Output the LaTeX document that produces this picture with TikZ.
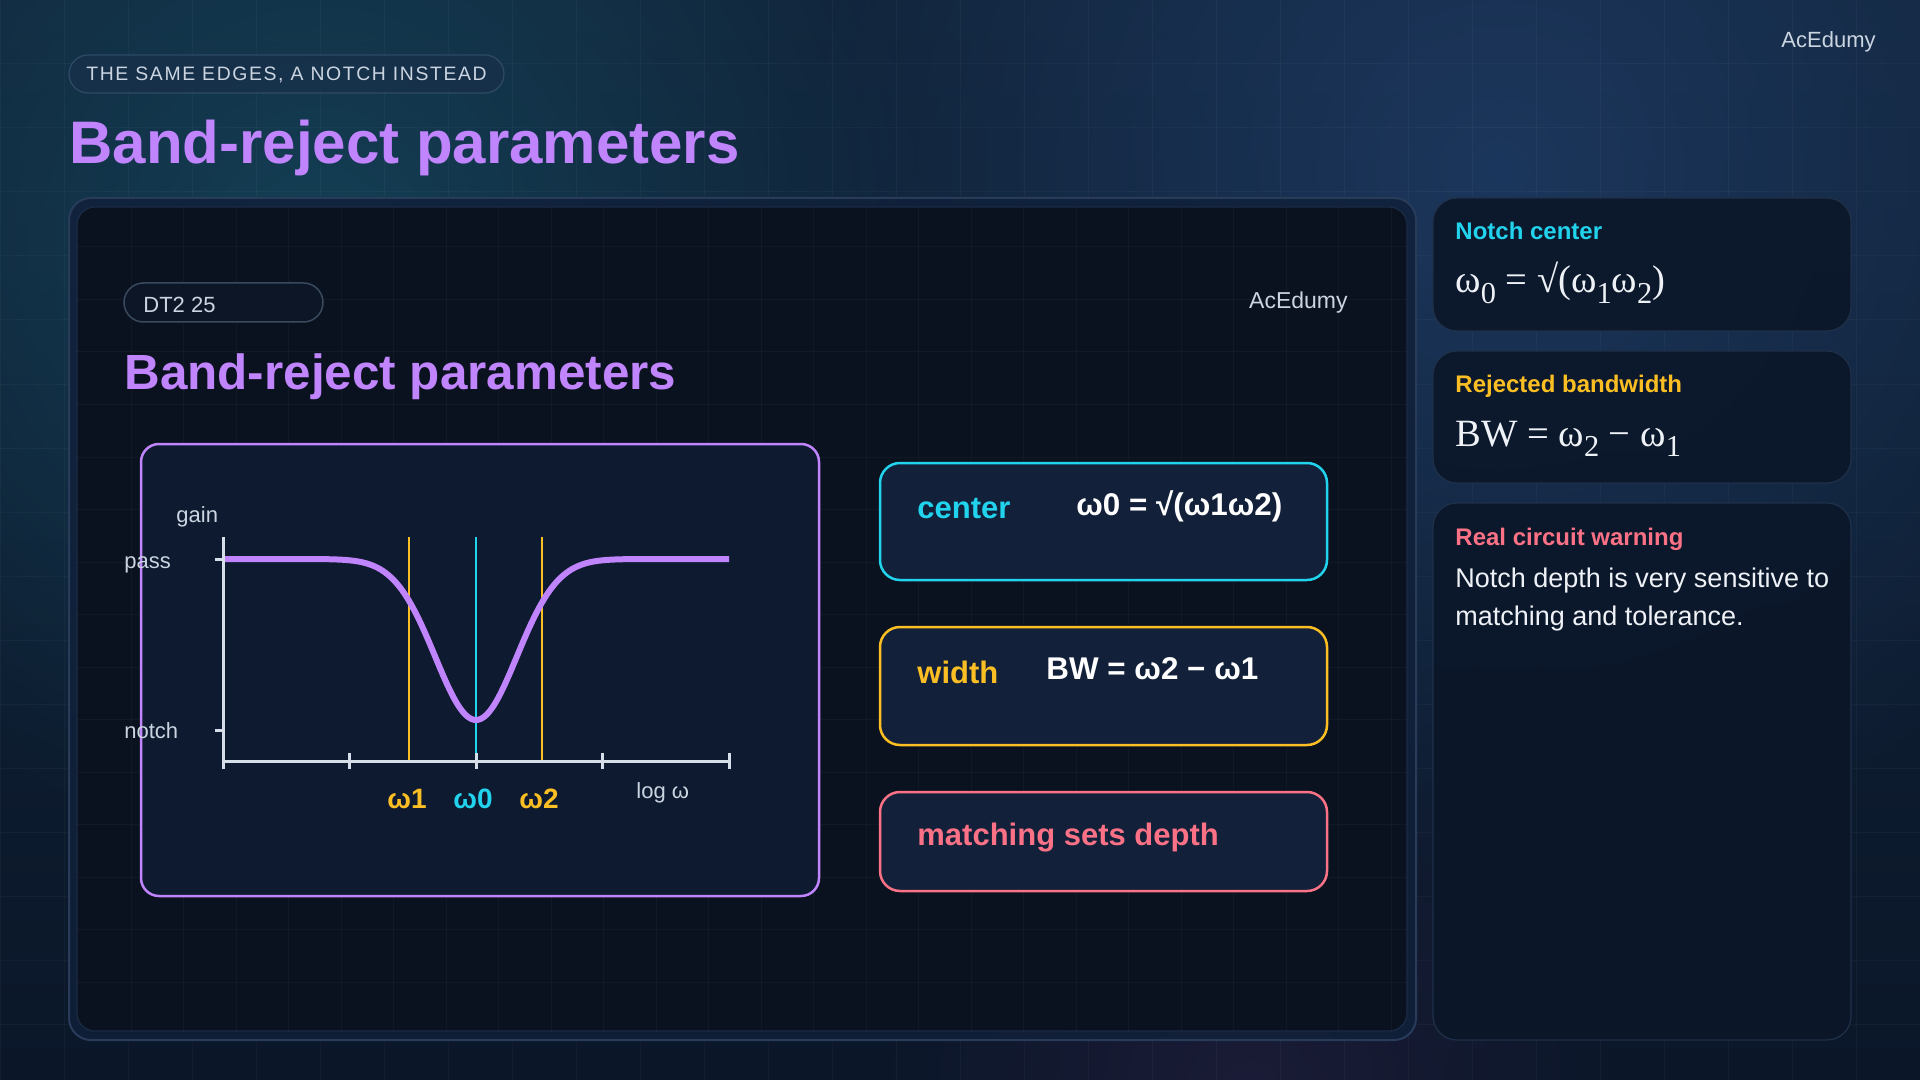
\documentclass[tikz,border=0pt]{standalone}
\usepackage{fontspec}
\setmainfont{Liberation Sans}
\newfontfamily\serif{Liberation Serif}
\usetikzlibrary{fadings}
\tikzfading[name=glowfade, inner color=transparent!0, outer color=transparent!100]
\definecolor{purp}{HTML}{C084FC}
\definecolor{cyanc}{HTML}{22D3EE}
\definecolor{amber}{HTML}{FBBF24}
\definecolor{rose}{HTML}{FB7185}
\definecolor{txtlight}{HTML}{EEF2F7}
\definecolor{txtgray}{HTML}{CBD5E1}
\definecolor{axisc}{HTML}{D5DEE9}
\definecolor{bgtop}{HTML}{11243A}
\definecolor{bgbot}{HTML}{0B1729}
\definecolor{glowteal}{HTML}{15465C}
\definecolor{glowblue}{HTML}{1F3C66}
\definecolor{glowpurp}{HTML}{261F40}
\definecolor{outerfill}{HTML}{10203A}
\definecolor{outerline}{HTML}{283C5A}
\definecolor{innerfill}{HTML}{0A111F}
\definecolor{innerline}{HTML}{1B2B44}
\definecolor{chartbg}{HTML}{0E1A2F}
\definecolor{cardbg}{HTML}{12203A}
\definecolor{rcardfill}{HTML}{0B1628}
\definecolor{rcardline}{HTML}{1F3049}
\definecolor{pillfill}{HTML}{17304A}
\definecolor{pillline}{HTML}{2E4A66}
\definecolor{dtfill}{HTML}{0C1626}
\definecolor{dtline}{HTML}{3A4A5E}
\newcommand\fsz[2]{\fontsize{#1}{#2}\selectfont}
\newcommand\lowsub[1]{\raisebox{-0.26em}{\fontsize{15.2}{15.2}\selectfont #1}}
\tikzset{
  txt/.style={inner sep=0pt, anchor=base west},
  txtr/.style={inner sep=0pt, anchor=base east},
  gridline/.style={draw=white, draw opacity=0.03, line width=0.5pt},
  rightcard/.style={fill=rcardfill, fill opacity=0.9, draw=rcardline, line width=0.6pt, rounded corners=12pt},
  cardbox/.style={fill=cardbg, line width=1.25pt, rounded corners=10pt},
  axisline/.style={draw=axisc, line width=1.5pt},
  freqline/.style={line width=1pt},
  cardlabel/.style={txt, font=\fsz{15.5}{18}\bfseries},
  cardformula/.style={txt, font=\fsz{15.7}{18}\bfseries, text=white},
  sidehead/.style={txt, font=\fsz{12}{14}\bfseries},
  sideformula/.style={txt, font=\serif\fsz{19.3}{22}, text=txtlight},
  chartlabel/.style={txt, font=\fsz{11}{13}, text=txtgray},
  omegalabel/.style={inner sep=0pt, anchor=base, font=\fsz{14}{16}\bfseries}
}
\begin{document}
\begin{tikzpicture}[x=0.5pt,y=-0.5pt]
\useasboundingbox (0,0) rectangle (1920,1080);
% background
\shade[top color=bgtop, bottom color=bgbot] (0,0) rectangle (1920,1080);
\fill[glowteal, path fading=glowfade, fill opacity=0.8] (320,240) circle (620);
\fill[glowblue, path fading=glowfade, fill opacity=0.8] (1500,170) circle (720);
\fill[glowpurp, path fading=glowfade, fill opacity=0.6] (1250,1090) circle (380);
\foreach \gx in {0,64,...,1920} \draw[gridline] (\gx,0) -- (\gx,1080);
\foreach \gy in {0,64,...,1080} \draw[gridline] (0,\gy) -- (1920,\gy);

% header
\draw[fill=pillfill, fill opacity=0.85, draw=pillline, line width=0.6pt, rounded corners=9.5pt] (69,55) rectangle (504,93);
\node[txt, font={\fsz{9.7}{11}\addfontfeature{LetterSpace=8.3}}, text=txtgray] (tag) at (86,81) {THE SAME EDGES, A NOTCH INSTEAD};
\node[txt, font={\fsz{30}{36}\bfseries}, text=purp] (title) at (69,164) {Band-reject parameters};
\node[txtr, font={\fsz{11}{13}}, text=txtgray] (brand) at (1876,48) {AcEdumy};

% main panel
\draw[fill=outerfill, fill opacity=0.85, draw=outerline, line width=1pt, rounded corners=11pt] (69,198) rectangle (1416,1040);
\draw[fill=innerfill, draw=innerline, line width=0.6pt, rounded corners=9pt] (77,207) rectangle (1407,1031);
\begin{scope}
\clip[rounded corners=9pt] (77,207) rectangle (1407,1031);
\foreach \gx in {131,183.5,...,1407} \draw[gridline] (\gx,207) -- (\gx,1031);
\foreach \gy in {247,299.5,...,1031} \draw[gridline] (77,\gy) -- (1407,\gy);
\end{scope}

\draw[fill=dtfill, draw=dtline, line width=0.75pt, rounded corners=9.75pt] (124,283) rectangle (323,322);
\node[txt, font={\fsz{11}{13}}, text=txtgray] (dt) at (143,313) {DT2 25};
\node[txtr, font={\fsz{11.5}{13}}, text=txtgray] (brand2) at (1348,309) {AcEdumy};
\node[txt, font={\fsz{24.7}{29}\bfseries}, text=purp] (title2) at (124,389) {Band-reject parameters};

% chart
\draw[draw=purp, line width=1.25pt, fill=chartbg, rounded corners=9pt] (141,444) rectangle (819,896);
\coordinate (ytop) at (223,537);
\coordinate (orig) at (223,761);
\coordinate (xend) at (729,761);
\coordinate (w1top) at (409,537);
\coordinate (w1bot) at (409,761);
\coordinate (w0top) at (476,537);
\coordinate (w0bot) at (476,761);
\coordinate (w2top) at (542,537);
\coordinate (w2bot) at (542,761);
\draw[freqline, draw=amber] (w1top) -- (w1bot);
\draw[freqline, draw=amber] (w2top) -- (w2bot);
\draw[freqline, draw=cyanc] (w0top) -- (w0bot);
\draw[purp, line width=3pt, line join=round] plot[domain=223:729, samples=160, smooth] (\x, {559 + 161*exp(-((\x-476)/57.7)^2)});
\draw[axisline] (ytop) -- (223,769);
\draw[axisline] (orig) -- (xend);
\foreach \tx in {349,476,602,729} \draw[axisline] (\tx,753) -- (\tx,769);
\draw[axisline] (215,559) -- (223,559);
\draw[axisline] (215,730) -- (223,730);
\node[chartlabel] (gain) at (176,522) {gain};
\node[chartlabel] (pass) at (124,568) {pass};
\node[chartlabel] (notch) at (124,738) {notch};
\node[chartlabel] (logw) at (636,798) {log ω};
\node[omegalabel, text=amber] (lw1) at (407,808) {ω1};
\node[omegalabel, text=cyanc] (lw0) at (473,808) {ω0};
\node[omegalabel, text=amber] (lw2) at (539,808) {ω2};

% cards
\draw[cardbox, draw=cyanc] (880,463) rectangle (1327,580);
\node[cardlabel, text=cyanc] (lc) at (917,518) {center};
\node[cardformula] (fc) at (1076,515) {ω0 = √(ω1ω2)};
\draw[cardbox, draw=amber] (880,627) rectangle (1327,745);
\node[cardlabel, text=amber] (lwid) at (917,683) {width};
\node[cardformula] (fw) at (1046,679) {BW = ω2 − ω1};
\draw[cardbox, draw=rose] (880,792) rectangle (1327,891);
\node[cardlabel, text=rose] (lm) at (917,845) {matching sets depth};

% right column
\draw[rightcard] (1433,198) rectangle (1851,331);
\node[sidehead, text=cyanc] (h1) at (1455,240) {Notch center};
\node[sideformula] (s1) at (1455,293) {ω\lowsub{0} = √(ω\lowsub{1}ω\lowsub{2})};
\draw[rightcard] (1433,351) rectangle (1851,483);
\node[sidehead, text=amber] (h2) at (1455,393) {Rejected bandwidth};
\node[sideformula] (s2) at (1455,446) {BW = ω\lowsub{2} − ω\lowsub{1}};
\draw[rightcard] (1433,503) rectangle (1851,1040);
\node[sidehead, text=rose] (h3) at (1455,545) {Real circuit warning};
\node[txt, font={\fsz{13.5}{19}}, text=txtlight] (b1) at (1455,587) {Notch depth is very sensitive to};
\node[txt, font={\fsz{13.5}{19}}, text=txtlight] (b2) at (1455,625) {matching and tolerance.};
\end{tikzpicture}
\end{document}
